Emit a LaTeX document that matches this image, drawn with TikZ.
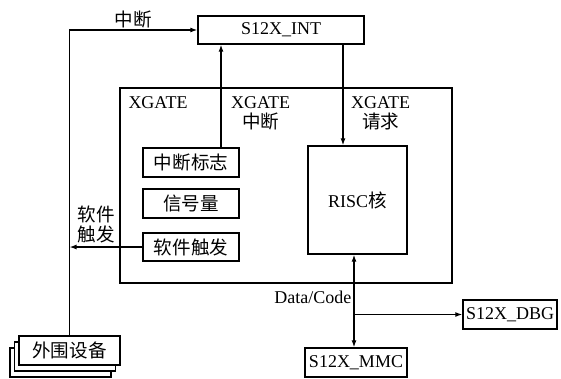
\documentclass[tikz,border=0pt]{standalone}
\usepackage{fontspec}
\setmainfont{Liberation Serif}
\newfontfamily\cjk{Noto Sans CJK SC}[Scale=1.03]
\usetikzlibrary{arrows.meta,positioning,calc,shadows}

\begin{document}
\begin{tikzpicture}[x=1pt,y=-1pt,
  font=\fontsize{18pt}{20pt}\selectfont,
  blk/.style={rectangle,draw,line width=1.4pt,fill=white,inner sep=0pt},
  sig/.style={-{Latex[length=7pt,width=5pt]},line width=1.3pt},
  bus/.style={{Latex[length=7pt,width=5pt]}-{Latex[length=7pt,width=5pt]},line width=1.3pt},
  lbl/.style={inner sep=0pt,align=center}]
  \useasboundingbox (0,0) rectangle (561,378);
  % blocs
  \node[blk,minimum width=332pt,minimum height=195pt] (xg) at (286,185.5) {};
  \node[blk,minimum width=166pt,minimum height=28pt] (int) at (281,30) {S12X\_INT};
  \node[blk,minimum width=96pt,minimum height=29pt] (flag) at (191,162.5) {\cjk 中断标志};
  \node[blk,minimum width=96pt,minimum height=29pt] (sem) at (191,203.5) {\cjk 信号量};
  \node[blk,minimum width=96pt,minimum height=28pt] (soft) at (191,247) {\cjk 软件触发};
  \node[blk,minimum width=99pt,minimum height=108pt] (risc) at (357.5,200) {RISC{\cjk 核}};
  \node[blk,minimum width=94pt,minimum height=29pt] (dbg) at (510,314.5) {S12X\_DBG};
  \node[blk,minimum width=102pt,minimum height=29pt] (mmc) at (356,362.5) {S12X\_MMC};
  \node[blk,minimum width=101pt,minimum height=29pt,
    double copy shadow={shadow xshift=-4.5pt,shadow yshift=-6pt,draw=black,fill=white,line width=1.4pt}]
    (periph) at (69.5,350.5) {\cjk 外围设备};
  % libelles du bloc XGATE
  \node[lbl,anchor=north west] (xgname) at ([xshift=9pt,yshift=-9pt]xg.north west) {XGATE};
  \coordinate (fu) at ([xshift=30pt]flag.north);
  \coordinate (rq) at ([xshift=62pt]int.south);
  \coordinate (bs) at ([xshift=-3.5pt]risc.south);
  \node[lbl,anchor=north west] (fulbl) at ([xshift=10pt,yshift=-9pt]fu |- xg.north) {XGATE\\{\cjk 中断}};
  \node[lbl,anchor=north west] (rqlbl) at ([xshift=8pt,yshift=-9pt]rq |- xg.north) {XGATE\\{\cjk 请求}};
  % liaisons
  \draw[sig] (periph.north) -- (periph.north |- int.west)
    -- node[lbl,above=1pt] (irqlbl) {\cjk 中断} (int.west);
  \draw[sig] (fu) -- (fu |- int.south);
  \draw[sig] (rq) -- (rq |- risc.north);
  \draw[sig] (soft.west) -- node[lbl,pos=0.63,above=3pt] (swlbl) {\cjk 软件\\\cjk 触发} (soft.west -| periph.north);
  \draw[bus] (bs) -- node[lbl,pos=0.46,left=2pt] (dclbl) {Data/Code} (bs |- mmc.north);
  \draw[sig] (bs |- dbg.west) -- (dbg.west);
\end{tikzpicture}
\end{document}
